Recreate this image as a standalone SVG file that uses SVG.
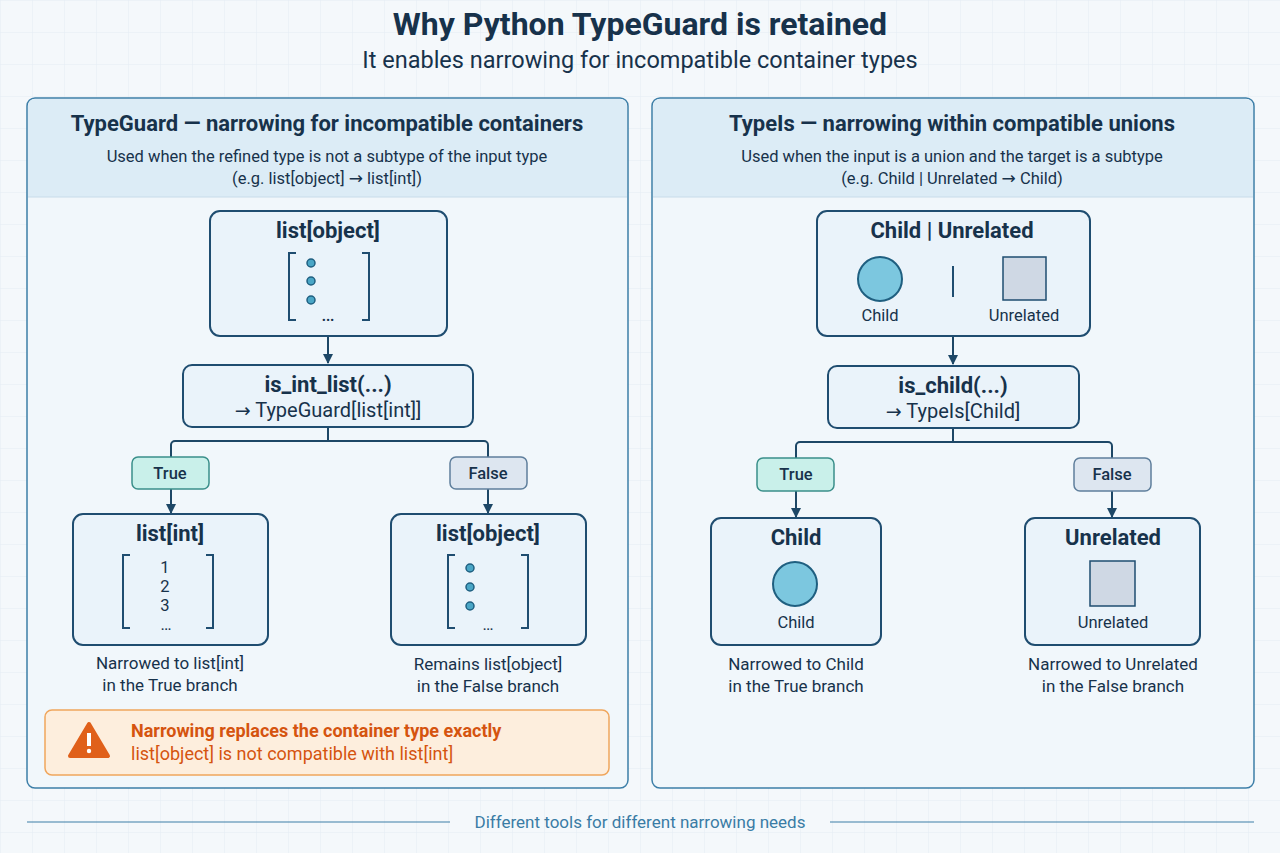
<svg xmlns="http://www.w3.org/2000/svg" width="1280" height="853" viewBox="0 0 1280 853">
<defs>
<pattern id="grid" width="32" height="32" patternUnits="userSpaceOnUse"><path d="M32 0H0V32" fill="none" stroke="#e3ebf3" stroke-width="1"/></pattern>
<marker id="ah" viewBox="0 0 10 10" refX="9" refY="5" markerWidth="5" markerHeight="5" orient="auto"><path d="M0 0L10 5L0 10Z" fill="#1d4766"/></marker>
<style>
text{font-family:"Roboto","Liberation Sans",sans-serif;fill:#17324b;text-anchor:middle}
.panel{fill:#f1f7fb;stroke:#3d7fa8;stroke-width:1.5}
.band{fill:#dcecf6}
.node{fill:#eaf3fa;stroke:#1f4d70;stroke-width:2}
.h{font-size:22px;font-weight:bold}
.t{font-size:20px}
.s{font-size:16.5px}
.c{font-size:17px}
.ar{font-family:"DejaVu Sans",sans-serif;font-size:17px}
.br{fill:none;stroke:#1f4d70;stroke-width:2}
.dot{fill:#4aa6c6;stroke:#1f5f80;stroke-width:1.5}
.conn{fill:none;stroke:#1d4766;stroke-width:2}
</style>
</defs>
<rect width="1280" height="853" fill="#f4f8fb"/>
<rect width="1280" height="853" fill="url(#grid)"/>
<text x="640" y="35" style="font-size:32px;font-weight:bold">Why Python TypeGuard is retained</text>
<text x="640" y="68" style="font-size:23.5px">It enables narrowing for incompatible container types</text>

<g id="panel-left">
<rect class="panel" x="27" y="98" width="601" height="690" rx="8"/>
<path class="band" d="M28 140V106a7 7 0 0 1 7-7H620a7 7 0 0 1 7 7V197H28Z"/>
<line x1="28" y1="197" x2="627" y2="197" stroke="#c8dcea"/>
<text x="327" y="131" class="h">TypeGuard — narrowing for incompatible containers</text>
<text x="327" y="162" class="s">Used when the refined type is not a subtype of the input type</text>
<text x="327" y="184" class="s">(e.g. list[object] <tspan class="ar">→</tspan> list[int])</text>
</g>
<g id="panel-right">
<rect class="panel" x="652" y="98" width="602" height="690" rx="8"/>
<path class="band" d="M653 140V106a7 7 0 0 1 7-7H1246a7 7 0 0 1 7 7V197H653Z"/>
<line x1="653" y1="197" x2="1253" y2="197" stroke="#c8dcea"/>
<text x="952" y="131" class="h">TypeIs — narrowing within compatible unions</text>
<text x="952" y="162" class="s">Used when the input is a union and the target is a subtype</text>
<text x="952" y="184" class="s">(e.g. Child | Unrelated <tspan class="ar">→</tspan> Child)</text>
</g>

<g id="connectors">
<line class="conn" x1="328" y1="336" x2="328" y2="363" marker-end="url(#ah)"/>
<path class="conn" d="M328 427V441M171 457V445a4 4 0 0 1 4-4H484a4 4 0 0 1 4 4V457"/>
<line class="conn" x1="171" y1="489" x2="171" y2="513" marker-end="url(#ah)"/>
<line class="conn" x1="488" y1="489" x2="488" y2="513" marker-end="url(#ah)"/>
<line class="conn" x1="953" y1="336" x2="953" y2="364" marker-end="url(#ah)"/>
<path class="conn" d="M953 428V442M796 458V446a4 4 0 0 1 4-4H1108a4 4 0 0 1 4 4V458"/>
<line class="conn" x1="796" y1="491" x2="796" y2="517" marker-end="url(#ah)"/>
<line class="conn" x1="1112" y1="491" x2="1112" y2="517" marker-end="url(#ah)"/>
</g>

<g id="n-listobject">
<rect class="node" x="210" y="211" width="237" height="125" rx="10"/>
<text x="328" y="238" class="h">list[object]</text>
<path class="br" d="M296 253H289V320H296M362 253H369V320H362"/>
<circle class="dot" cx="311" cy="263" r="4"/><circle class="dot" cx="311" cy="281" r="4"/><circle class="dot" cx="311" cy="300" r="4"/>
<text x="328" y="321" class="t">…</text>
</g>
<g id="n-isintlist">
<rect class="node" x="183" y="365" width="290" height="62" rx="9"/>
<text x="328" y="392" class="h">is_int_list(...)</text>
<text x="328" y="417" class="t"><tspan class="ar" style="font-size:19px">→</tspan> TypeGuard[list[int]]</text>
</g>
<g id="n-true-l">
<rect x="132" y="457" width="77" height="32" rx="6" fill="#c9f0ea" stroke="#3a8f8a" stroke-width="1.5"/>
<text x="170" y="479" class="s" style="font-weight:500">True</text>
</g>
<g id="n-false-l">
<rect x="450" y="457" width="77" height="32" rx="6" fill="#dde6f0" stroke="#5f7f9c" stroke-width="1.5"/>
<text x="488" y="479" class="s" style="font-weight:500">False</text>
</g>
<g id="n-listint">
<rect class="node" x="73" y="514" width="195" height="131" rx="10"/>
<text x="170" y="541" class="h">list[int]</text>
<path class="br" d="M130 555H123V628H130M206 555H213V628H206"/>
<text x="165" y="573" class="s">1</text><text x="165" y="592" class="s">2</text><text x="165" y="611" class="s">3</text>
<text x="166" y="630" class="s">…</text>
<text x="170" y="669" class="c">Narrowed to list[int]</text>
<text x="170" y="691" class="c">in the True branch</text>
</g>
<g id="n-listobject2">
<rect class="node" x="391" y="514" width="195" height="131" rx="10"/>
<text x="488" y="541" class="h">list[object]</text>
<path class="br" d="M455 555H448V628H455M521 555H528V628H521"/>
<circle class="dot" cx="470" cy="568" r="4"/><circle class="dot" cx="470" cy="587" r="4"/><circle class="dot" cx="470" cy="606" r="4"/>
<text x="488" y="630" class="s">…</text>
<text x="488" y="670" class="c">Remains list[object]</text>
<text x="488" y="692" class="c">in the False branch</text>
</g>
<g id="n-warning">
<rect x="45" y="710" width="564" height="65" rx="7" fill="#fdeedd" stroke="#f0a65c" stroke-width="1.5"/>
<path d="M89 724L108 756H70Z" fill="#e0601a" stroke="#e0601a" stroke-width="4" stroke-linejoin="round"/>
<rect x="87" y="733" width="4" height="13" fill="#fff"/><circle cx="89" cy="751" r="2.2" fill="#fff"/>
<text x="131" y="737" style="font-size:18px;font-weight:bold;fill:#d5540f;text-anchor:start">Narrowing replaces the container type exactly</text>
<text x="131" y="760" style="font-size:18px;fill:#d5540f;text-anchor:start">list[object] is not compatible with list[int]</text>
</g>

<g id="n-union">
<rect class="node" x="817" y="211" width="273" height="125" rx="10"/>
<text x="952" y="238" class="h">Child | Unrelated</text>
<circle cx="880" cy="279" r="22" fill="#7cc7df" stroke="#1f5f80" stroke-width="2"/>
<line x1="953" y1="266" x2="953" y2="297" stroke="#1f4d70" stroke-width="2"/>
<rect x="1003" y="257" width="43" height="43" fill="#cfd8e4" stroke="#1f4d70" stroke-width="1.5"/>
<text x="880" y="321" class="s">Child</text>
<text x="1024" y="321" class="s">Unrelated</text>
</g>
<g id="n-ischild">
<rect class="node" x="828" y="366" width="251" height="62" rx="9"/>
<text x="953" y="393" class="h">is_child(...)</text>
<text x="953" y="418" class="t"><tspan class="ar" style="font-size:19px">→</tspan> TypeIs[Child]</text>
</g>
<g id="n-true-r">
<rect x="757" y="458" width="77" height="33" rx="6" fill="#c9f0ea" stroke="#3a8f8a" stroke-width="1.5"/>
<text x="796" y="480" class="s" style="font-weight:500">True</text>
</g>
<g id="n-false-r">
<rect x="1074" y="458" width="77" height="33" rx="6" fill="#dde6f0" stroke="#5f7f9c" stroke-width="1.5"/>
<text x="1112" y="480" class="s" style="font-weight:500">False</text>
</g>
<g id="n-child">
<rect class="node" x="711" y="518" width="170" height="127" rx="10"/>
<text x="796" y="545" class="h">Child</text>
<circle cx="795" cy="584" r="22" fill="#7cc7df" stroke="#1f5f80" stroke-width="2"/>
<text x="796" y="628" class="s">Child</text>
<text x="796" y="670" class="c">Narrowed to Child</text>
<text x="796" y="692" class="c">in the True branch</text>
</g>
<g id="n-unrelated">
<rect class="node" x="1025" y="518" width="175" height="127" rx="10"/>
<text x="1113" y="545" class="h">Unrelated</text>
<rect x="1090" y="561" width="45" height="45" fill="#cfd8e4" stroke="#1f4d70" stroke-width="1.5"/>
<text x="1113" y="628" class="s">Unrelated</text>
<text x="1113" y="670" class="c">Narrowed to Unrelated</text>
<text x="1113" y="692" class="c">in the False branch</text>
</g>

<g id="footer">
<line x1="27" y1="822" x2="450" y2="822" stroke="#3d7fa8" stroke-width="1.2"/>
<line x1="830" y1="822" x2="1254" y2="822" stroke="#3d7fa8" stroke-width="1.2"/>
<text x="640" y="828" style="font-size:17px;fill:#3a7ca5">Different tools for different narrowing needs</text>
</g>
</svg>
